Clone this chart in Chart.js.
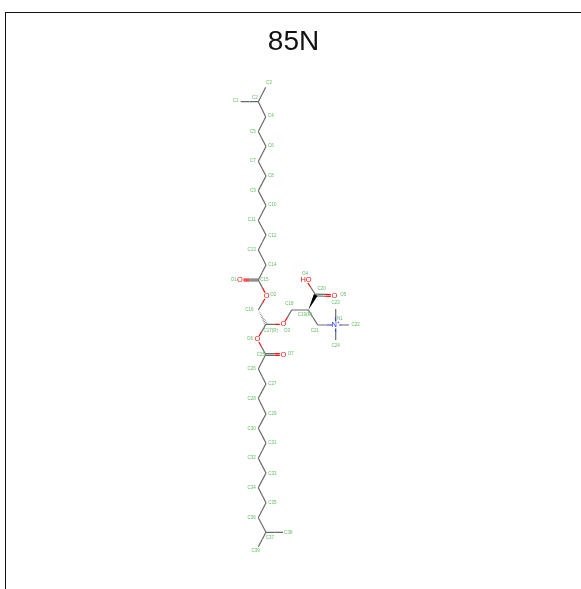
<!DOCTYPE html>
<html>
<head>
<meta charset="utf-8">
<title>85N</title>
<script src="https://cdn.jsdelivr.net/npm/chart.js@4"></script>
<style>
    html, body { margin: 0; padding: 0; background: #fff; overflow: hidden; }
    #frame { position: absolute; left: 5px; top: 12px; width: 576px; height: 577px; border-left: 1px solid #111; border-top: 1px solid #111; filter: blur(0.3px); }
    #chart { display: block; filter: blur(0.5px); }
</style>
</head>
<body>
<div id="frame"><canvas id="chart" width="575" height="576"></canvas></div>
<script>
// Atoms of the molecule
const titleText = '85N';
const atomNames = ['C1', 'C2', 'C3', 'C4', 'C5', 'C6', 'C7', 'C8', 'C9', 'C10', 'C11', 'C12', 'C13', 'C14', 'C15', 'O1', 'O2', 'C16', 'C17', 'O3', 'C18', 'C19', 'C20', 'O4', 'O5', 'C21', 'N1', 'C22', 'C23', 'C24', 'O6', 'C25', 'O7', 'C26', 'C27', 'C28', 'C29', 'C30', 'C31', 'C32', 'C33', 'C34', 'C35', 'C36', 'C37', 'C38', 'C39'];
const atomX = [240.7, 258.3, 265.7, 265.7, 258.3, 266, 258.3, 266, 258.3, 266, 258.3, 266, 258.3, 266, 258.3, 240, 266.7, 258.3, 266, 283.3, 291.7, 308.3, 315.7, 306, 334.3, 317.7, 335.7, 349, 335.7, 335.7, 257.3, 265.7, 283.3, 258.3, 266, 258.3, 266, 258.3, 266, 258.3, 266, 258.3, 266, 258.3, 266, 283, 258.3];
const atomY = [101.7, 101.7, 87.3, 117, 131.5, 146.5, 161.5, 176, 190.7, 205.5, 220.5, 235, 250, 265, 280, 280, 295.7, 310, 324.3, 324.3, 310, 310, 295, 280, 295.7, 325, 325, 325, 309, 340, 339, 354.5, 354.5, 369, 384, 398.3, 414, 428.3, 443, 458.3, 473, 487.7, 502.7, 517.7, 532.3, 532.3, 546.7];

// Small green atom names beside each atom
const labelTexts = ['C1', 'C2', 'C3', 'C4', 'C5', 'C6', 'C7', 'C8', 'C9', 'C10', 'C11', 'C12', 'C13', 'C14', 'C15', 'O1', 'O2', 'C16', 'C17(R)', 'O3', 'C18', 'C19(R)', 'C20', 'O4', 'O5', 'C21', 'N1', 'C22', 'C23', 'C24', 'O6', 'C25', 'O7', 'C26', 'C27', 'C28', 'C29', 'C30', 'C31', 'C32', 'C33', 'C34', 'C35', 'C36', 'C37', 'C38', 'C39'];
const labelX = [235.7, 255, 269, 271, 253, 271, 253, 271, 253, 272.3, 251.7, 272.3, 251.7, 272.3, 264.3, 233.7, 273.3, 249.3, 270.7, 287, 289.3, 305, 321.7, 305, 343.3, 315, 340, 355.7, 335.7, 335.7, 250, 261, 290.7, 251.7, 272.3, 251.7, 272.3, 251.7, 272.3, 251.7, 272.3, 251.7, 272.3, 251.7, 270, 288.3, 255.7];
const labelY = [101, 97.7, 82.7, 115.7, 131.3, 146, 160.3, 176, 190.7, 205, 220, 235.7, 250, 265, 279.3, 279.3, 295, 309.3, 330.3, 330.3, 303.3, 314.3, 289, 273.3, 295, 330.3, 319, 324.3, 302.3, 345.7, 339, 354.3, 353.3, 369, 384, 398.3, 414, 428.3, 443, 457.7, 473.3, 487.7, 502.7, 517.7, 537.3, 532.3, 550.7];

// Element symbols drawn on the hetero atoms
const symbolAtoms = ['O1', 'O2', 'O3', 'O4', 'O5', 'O6', 'O7', 'N1'];
const symbolTexts = ['O', 'O', 'O', 'HO', 'O', 'O', 'O', 'N⁺'];

// Bonds
const bondFrom = ['C1', 'C3', 'C2', 'C4', 'C5', 'C6', 'C7', 'C8', 'C9', 'C10', 'C11', 'C12', 'C13', 'C14', 'C15', 'C15', 'O2', 'C17', 'O3', 'C18', 'C20', 'C20', 'C19', 'C21', 'N1', 'N1', 'N1', 'C17', 'O6', 'C25', 'C25', 'C26', 'C27', 'C28', 'C29', 'C30', 'C31', 'C32', 'C33', 'C34', 'C35', 'C36', 'C37', 'C37'];
const bondTo = ['C2', 'C2', 'C4', 'C5', 'C6', 'C7', 'C8', 'C9', 'C10', 'C11', 'C12', 'C13', 'C14', 'C15', 'O1', 'O2', 'C16', 'O3', 'C18', 'C19', 'O4', 'O5', 'C21', 'N1', 'C22', 'C23', 'C24', 'O6', 'C25', 'O7', 'C26', 'C27', 'C28', 'C29', 'C30', 'C31', 'C32', 'C33', 'C34', 'C35', 'C36', 'C37', 'C38', 'C39'];
const doubleBonds = ['O1', 'O5', 'O7'];
const wedgeBonds = [['C19', 'C20']];
const hashBonds = [['C16', 'C17']];

function atomPos(name) {
    const i = atomNames.indexOf(name);
    return { x: atomX[i], y: atomY[i] };
}

function atomColor(name) {
    if (name[0] === 'O') return '#f01010';
    if (name[0] === 'N') return '#2030e0';
    return '#6a6a6a';
}

// Each bond becomes two half lines, coloured after the atom on that side
function buildBondDatasets() {
    const sets = [];
    bondFrom.forEach((from, i) => {
        const to = bondTo[i];
        const a = atomPos(from);
        const b = atomPos(to);
        const len = Math.hypot(b.x - a.x, b.y - a.y);
        const ux = (b.x - a.x) / len;
        const uy = (b.y - a.y) / len;
        const gapA = from[0] === 'C' ? 0 : 3.5;
        const gapB = to[0] === 'C' ? 0 : 3.5;
        const start = { x: a.x + ux * gapA, y: a.y + uy * gapA };
        const end = { x: b.x - ux * gapB, y: b.y - uy * gapB };
        const mid = { x: (a.x + b.x) / 2, y: (a.y + b.y) / 2 };
        const offsets = doubleBonds.includes(to) ? [-0.9, 0.9] : [0];
        offsets.forEach(off => {
            const ox = -uy * off;
            const oy = ux * off;
            [[start, mid, from], [mid, end, to]].forEach(([p, q, atom]) => {
                sets.push({
                    data: [{ x: p.x + ox, y: p.y + oy }, { x: q.x + ox, y: q.y + oy }],
                    borderColor: atomColor(atom),
                    borderWidth: 1.2,
                    pointRadius: 0,
                    showLine: true
                });
            });
        });
    });
    return sets;
}

// Draws wedge and hash bonds, atom names and element symbols through the scales
const moleculePlugin = {
    id: 'molecule',
    afterDatasetsDraw(chart) {
        const ctx = chart.ctx;
        const sx = chart.scales.x;
        const sy = chart.scales.y;
        const px = p => ({ x: sx.getPixelForValue(p.x), y: sy.getPixelForValue(p.y) });
        ctx.save();

        wedgeBonds.forEach(([from, to]) => {
            const a = px(atomPos(from));
            const b = px(atomPos(to));
            const len = Math.hypot(b.x - a.x, b.y - a.y);
            const nx = -(b.y - a.y) / len * 2;
            const ny = (b.x - a.x) / len * 2;
            ctx.fillStyle = '#000';
            ctx.beginPath();
            ctx.moveTo(a.x, a.y);
            ctx.lineTo(b.x + nx, b.y + ny);
            ctx.lineTo(b.x - nx, b.y - ny);
            ctx.closePath();
            ctx.fill();
        });

        hashBonds.forEach(([from, to]) => {
            const a = px(atomPos(from));
            const b = px(atomPos(to));
            const len = Math.hypot(b.x - a.x, b.y - a.y);
            const nx = -(b.y - a.y) / len;
            const ny = (b.x - a.x) / len;
            ctx.strokeStyle = '#777777';
            ctx.lineWidth = 0.8;
            for (let t = 0; t <= 1; t += 0.1) {
                const w = 0.2 + t * 1.6;
                const cx = a.x + (b.x - a.x) * t;
                const cy = a.y + (b.y - a.y) * t;
                ctx.beginPath();
                ctx.moveTo(cx - nx * w, cy - ny * w);
                ctx.lineTo(cx + nx * w, cy + ny * w);
                ctx.stroke();
            }
        });

        ctx.textAlign = 'center';
        ctx.textBaseline = 'middle';

        // Small green names
        ctx.fillStyle = '#62bc62';
        ctx.font = '4.5px "Liberation Sans"';
        labelTexts.forEach((text, i) => {
            const p = px({ x: labelX[i], y: labelY[i] });
            ctx.fillText(text, p.x, p.y);
        });

        // Element symbols
        ctx.font = '7.5px "Liberation Sans"';
        symbolAtoms.forEach((name, i) => {
            const p = px(atomPos(name));
            ctx.fillStyle = atomColor(name);
            ctx.fillText(symbolTexts[i], p.x, p.y);
        });
        ctx.restore();
    }
};

// Creates the chart, scales run in the page's own units
const chartCtx = document.getElementById('chart').getContext('2d');
const chart = new Chart(chartCtx, {
    type: 'scatter',
    data: { datasets: buildBondDatasets() },
    plugins: [moleculePlugin],
    options: {
        responsive: false,
        animation: false,
        devicePixelRatio: 1,
        layout: { padding: 0 },
        plugins: {
            legend: { display: false },
            tooltip: { enabled: false },
            title: {
                display: true,
                text: titleText,
                color: '#111',
                font: { family: '"Liberation Sans"', size: 28, weight: 'normal' },
                padding: { top: 12, bottom: 11 }
            }
        },
        scales: {
            x: { type: 'linear', display: false, min: 6, max: 581 },
            y: { type: 'linear', display: false, reverse: true, min: 69.6, max: 589 }
        }
    }
});
</script>
</body>
</html>
